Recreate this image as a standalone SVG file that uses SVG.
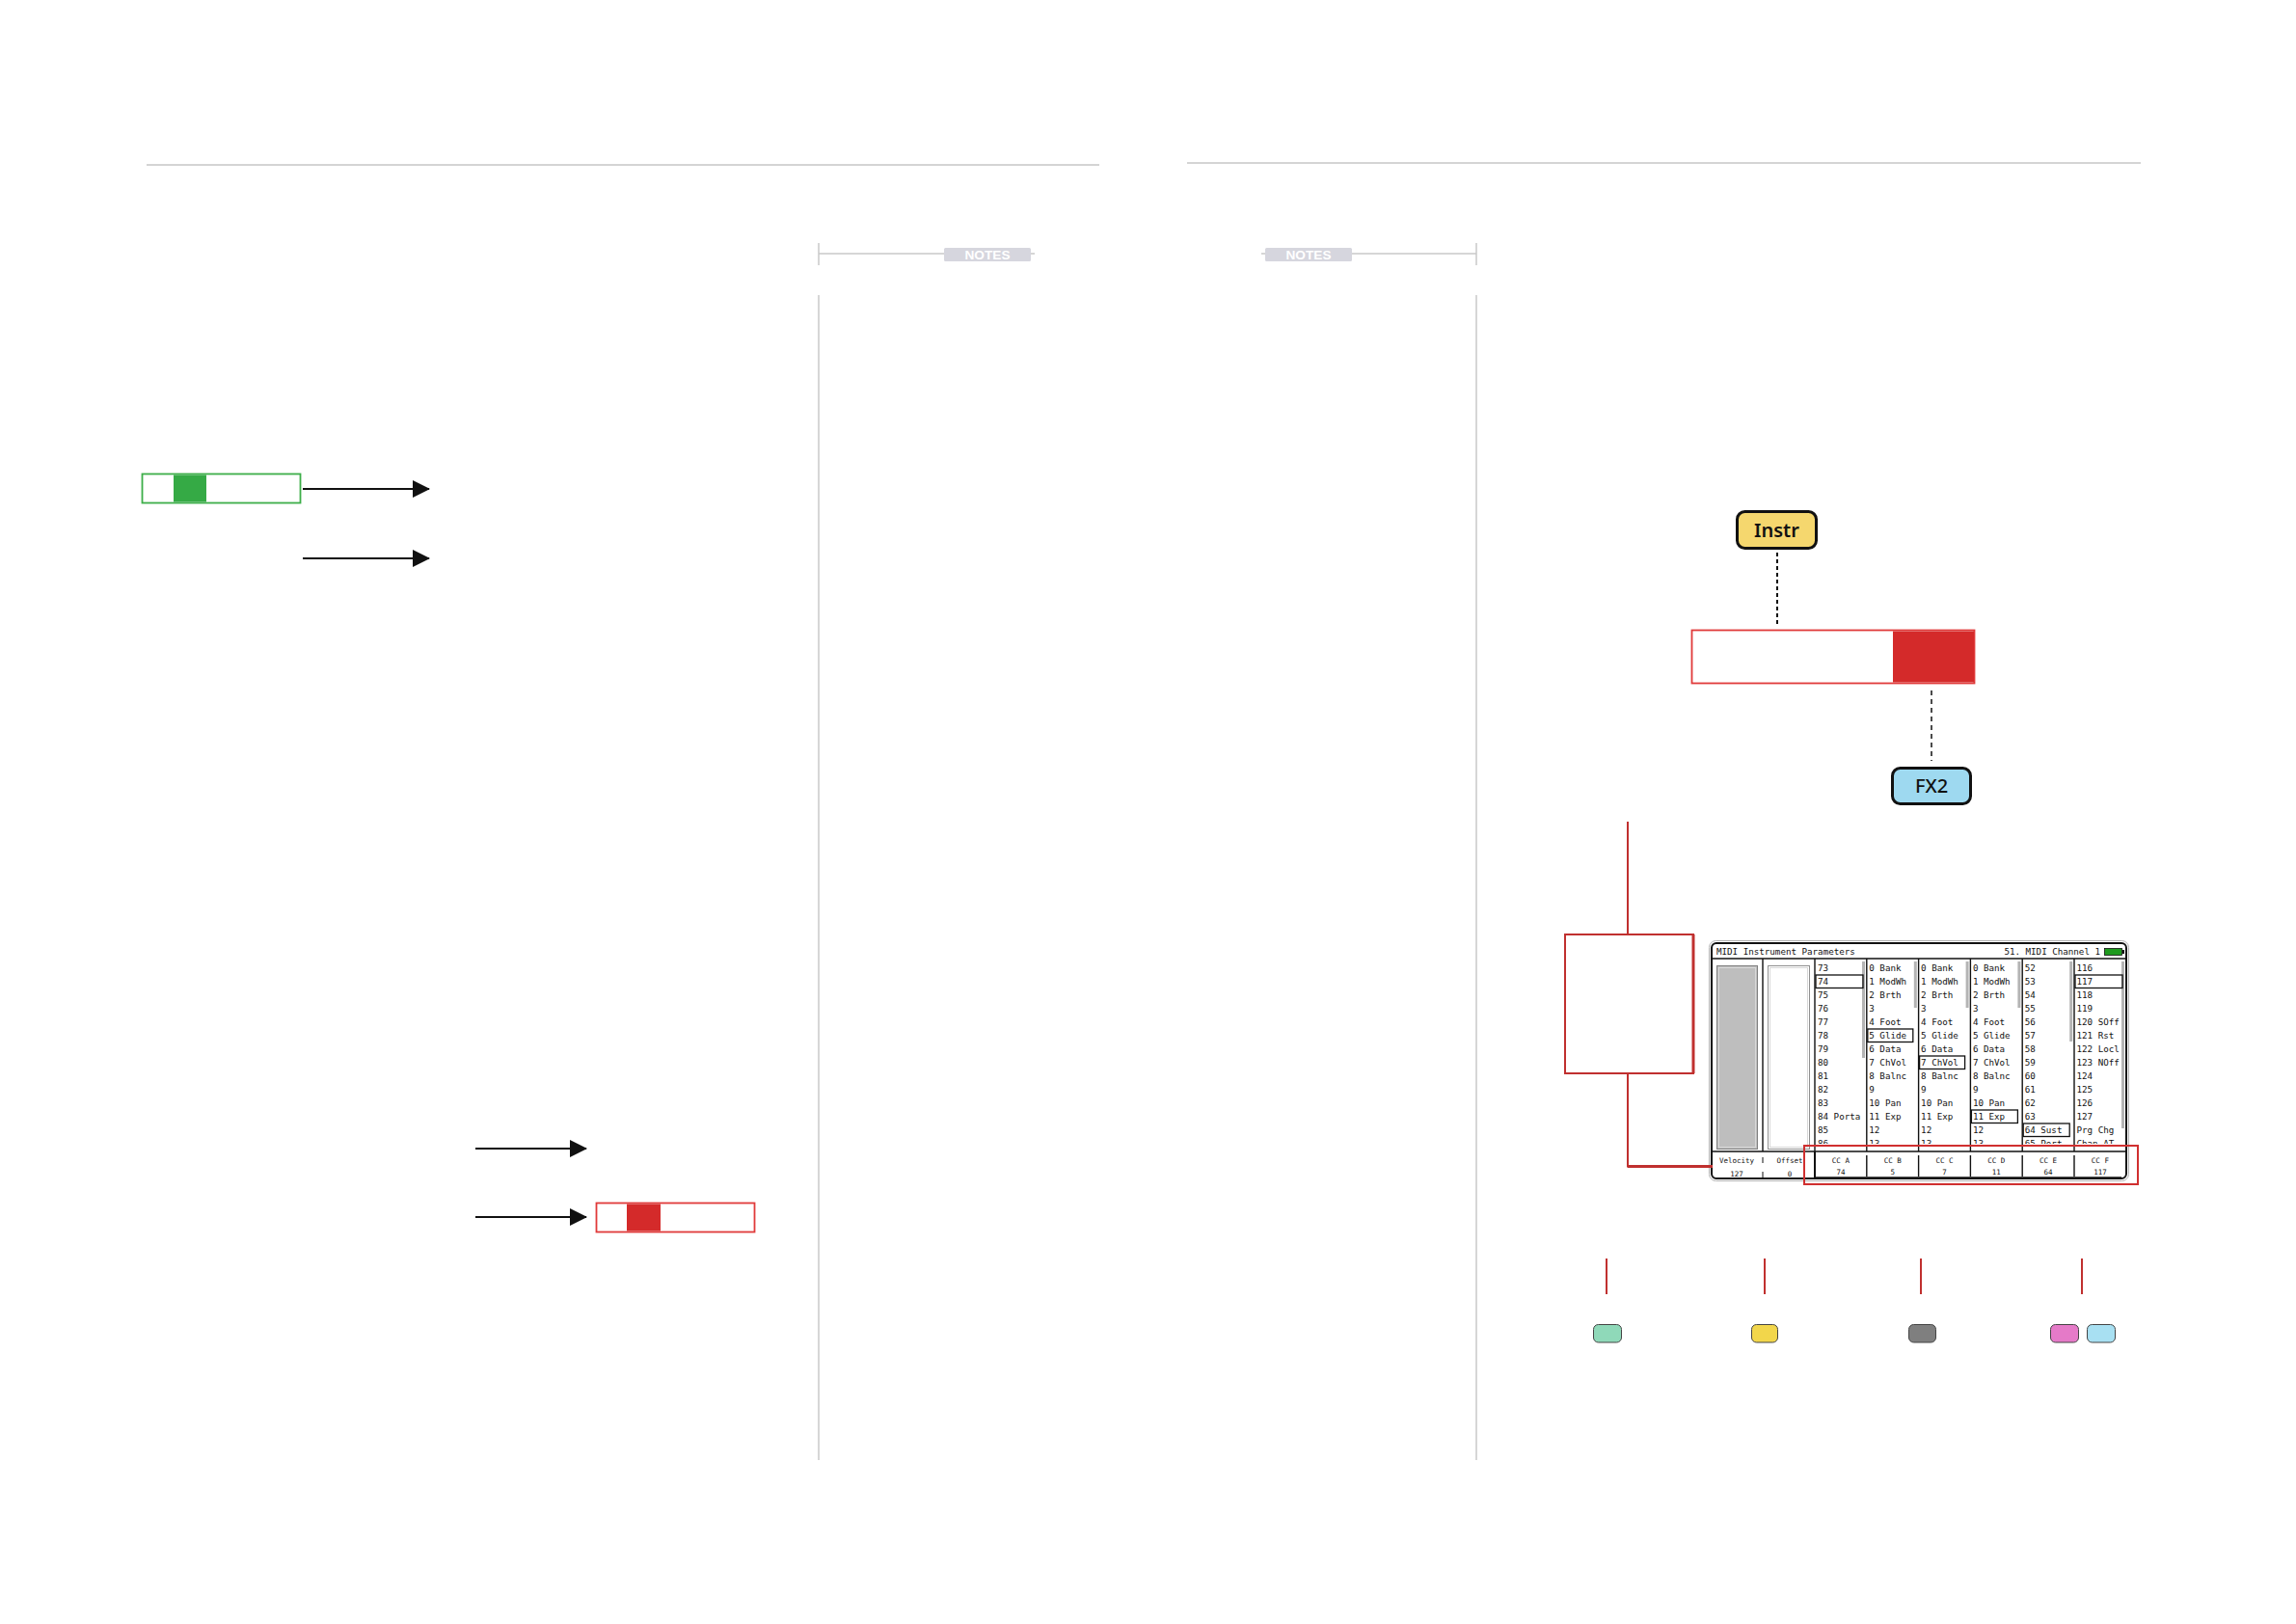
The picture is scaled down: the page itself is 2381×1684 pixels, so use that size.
<svg xmlns="http://www.w3.org/2000/svg" width="2381" height="1684" viewBox="0 0 2381 1684">
<defs>
<style>
.guide{stroke:#D4D4D4;stroke-width:2;fill:none}
.vguide{stroke:#C8C8C8;stroke-width:1.5;fill:none}
.notes{fill:#D6D6DE}
.notestxt{font-family:"Liberation Sans",Arial,sans-serif;font-size:13px;font-weight:bold;fill:#FFFFFF;text-anchor:middle}
.arrow{stroke:#111;stroke-width:2;fill:none;marker-end:url(#ah)}
.redln{stroke:#C0302F;stroke-width:2;fill:none}
.mono{font-family:"DejaVu Sans Mono","Liberation Mono",monospace;font-size:9.2px;fill:#111}
.small{font-family:"DejaVu Sans Mono","Liberation Mono",monospace;font-size:7.5px;fill:#111;text-anchor:middle}
.sep{stroke:#111;stroke-width:1.4}
.scroll{stroke:#B4B4B4;stroke-width:3}
.sel{fill:none;stroke:#111;stroke-width:1.3}
.label{font-family:"Noto Sans","DejaVu Sans",sans-serif;font-size:20px;fill:#111;text-anchor:middle}
.sw{stroke:#444;stroke-width:1}
</style>
<marker id="ah" viewBox="0 0 18 18" refX="17" refY="9" markerWidth="18" markerHeight="18" markerUnits="userSpaceOnUse" orient="auto">
<path d="M0,0 L18,9 L0,18 Z" fill="#111"/>
</marker>
<clipPath id="listclip"><rect x="1878" y="995" width="330" height="191"/></clipPath>
<clipPath id="valclip"><rect x="1776" y="1213" width="100" height="9"/></clipPath>
</defs>

<g id="page-guides">
<line class="guide" x1="152" y1="171" x2="1140" y2="171"/>
<line class="guide" x1="1231" y1="169" x2="2220" y2="169"/>
<line class="vguide" x1="849" y1="252" x2="849" y2="275"/>
<line class="vguide" x1="849" y1="263" x2="979" y2="263"/>
<line class="vguide" x1="1069" y1="263" x2="1073" y2="263"/>
<rect class="notes" x="979" y="257" width="90" height="14" rx="1.5"/>
<text class="notestxt" x="1024" y="268.5" textLength="47" lengthAdjust="spacingAndGlyphs">NOTES</text>
<line class="vguide" x1="1531" y1="252" x2="1531" y2="275"/>
<line class="vguide" x1="1402" y1="263" x2="1531" y2="263"/>
<line class="vguide" x1="1308" y1="263" x2="1312" y2="263"/>
<rect class="notes" x="1312" y="257" width="90" height="14" rx="1.5"/>
<text class="notestxt" x="1357" y="268.5" textLength="47" lengthAdjust="spacingAndGlyphs">NOTES</text>
<line class="vguide" x1="849" y1="306" x2="849" y2="1514"/>
<line class="vguide" x1="1531" y1="306" x2="1531" y2="1514"/>
</g>

<g id="green-bar">
<rect x="147.5" y="491.5" width="164" height="30" fill="#FFFFFF" stroke="#3DAE49" stroke-width="1.8"/>
<rect x="180" y="492.5" width="34" height="28" fill="#35AA45"/>
</g>

<g id="red-bar-left">
<rect x="618.5" y="1247.5" width="164" height="30" fill="#FFFFFF" stroke="#E03A3A" stroke-width="1.8"/>
<rect x="650" y="1248.5" width="35" height="28" fill="#D42A2A"/>
</g>

<g id="instr">
<rect x="1801.5" y="530.5" width="82" height="38" rx="8" fill="#F5D76E" stroke="#111" stroke-width="3"/>
<text class="label" x="1842.5" y="556.5" font-weight="600">Instr</text>
</g>

<g id="red-bar-right">
<rect x="1754.5" y="653.5" width="293" height="55" fill="#FFFFFF" stroke="#E03A3A" stroke-width="1.8"/>
<rect x="1963" y="654.5" width="84" height="53" fill="#D42A2A"/>
</g>

<g id="fx2">
<rect x="1962.5" y="796.5" width="81" height="37" rx="8" fill="#9ED9F0" stroke="#111" stroke-width="3"/>
<text class="label" x="2003" y="822" font-weight="500">FX2</text>
</g>

<g id="callout-box">
<rect x="1623" y="969" width="133" height="144" fill="#FFFFFF" stroke="#C0302F" stroke-width="2"/>
<line x1="1756" y1="969" x2="1756" y2="1113" stroke="#C0302F" stroke-width="3"/>
</g>

<g id="screen">
<rect x="1772.5" y="975.5" width="435" height="249" rx="7" fill="#FFFFFF" stroke="#B0B0B0" stroke-width="1"/>
<rect x="1775" y="978" width="430" height="244" rx="5" fill="#FFFFFF" stroke="#111" stroke-width="2"/>
<text class="mono" x="1780" y="990">MIDI Instrument Parameters</text>
<text class="mono" x="2178" y="990" text-anchor="end">51. MIDI Channel 1</text>
<rect x="2182.5" y="983.5" width="18" height="7" fill="#1F9A1F" stroke="#111" stroke-width="0.8"/>
<rect x="2201" y="985" width="2" height="4" fill="#111"/>
<line class="sep" x1="1776" y1="994" x2="2204" y2="994"/>
<rect x="1780.5" y="1001.5" width="42" height="190" fill="#BEBEBE" stroke="#808080" stroke-width="1"/>
<rect x="1782.5" y="1003.5" width="38" height="186" fill="none" stroke="#D8D8D8" stroke-width="1"/>
<rect x="1833.5" y="1001.5" width="43" height="190" fill="#FFFFFF" stroke="#909090" stroke-width="1"/>
<rect x="1835.5" y="1003.5" width="39" height="186" fill="none" stroke="#D8D8D8" stroke-width="1"/>
<line class="sep" x1="1828" y1="994" x2="1828" y2="1194"/>
<line class="sep" x1="1882" y1="994" x2="1882" y2="1194"/>
<line class="sep" x1="1935.8" y1="994" x2="1935.8" y2="1194"/>
<line class="sep" x1="1989.6" y1="994" x2="1989.6" y2="1194"/>
<line class="sep" x1="2043.4" y1="994" x2="2043.4" y2="1194"/>
<line class="sep" x1="2097.2" y1="994" x2="2097.2" y2="1194"/>
<line class="sep" x1="2151" y1="994" x2="2151" y2="1194"/>
<line class="scroll" x1="1932.5" y1="997" x2="1932.5" y2="1097"/>
<line class="scroll" x1="1986.3" y1="997" x2="1986.3" y2="1045"/>
<line class="scroll" x1="2040.1" y1="997" x2="2040.1" y2="1045"/>
<line class="scroll" x1="2093.9" y1="997" x2="2093.9" y2="1045"/>
<line class="scroll" x1="2147.7" y1="997" x2="2147.7" y2="1080"/>
<line class="scroll" x1="2201.5" y1="997" x2="2201.5" y2="1170"/>
<g clip-path="url(#listclip)">
<text class="mono"><tspan x="1885" y="1007">73</tspan><tspan x="1885" y="1021">74</tspan><tspan x="1885" y="1035">75</tspan><tspan x="1885" y="1049">76</tspan><tspan x="1885" y="1063">77</tspan><tspan x="1885" y="1077">78</tspan><tspan x="1885" y="1091">79</tspan><tspan x="1885" y="1105">80</tspan><tspan x="1885" y="1119">81</tspan><tspan x="1885" y="1133">82</tspan><tspan x="1885" y="1147">83</tspan><tspan x="1885" y="1161">84 Porta</tspan><tspan x="1885" y="1175">85</tspan><tspan x="1885" y="1189">86</tspan></text>
<text class="mono"><tspan x="1938.3" y="1007">0 Bank</tspan><tspan x="1938.3" y="1021">1 ModWh</tspan><tspan x="1938.3" y="1035">2 Brth</tspan><tspan x="1938.3" y="1049">3</tspan><tspan x="1938.3" y="1063">4 Foot</tspan><tspan x="1938.3" y="1077">5 Glide</tspan><tspan x="1938.3" y="1091">6 Data</tspan><tspan x="1938.3" y="1105">7 ChVol</tspan><tspan x="1938.3" y="1119">8 Balnc</tspan><tspan x="1938.3" y="1133">9</tspan><tspan x="1938.3" y="1147">10 Pan</tspan><tspan x="1938.3" y="1161">11 Exp</tspan><tspan x="1938.3" y="1175">12</tspan><tspan x="1938.3" y="1189">13</tspan></text>
<text class="mono"><tspan x="1992.1" y="1007">0 Bank</tspan><tspan x="1992.1" y="1021">1 ModWh</tspan><tspan x="1992.1" y="1035">2 Brth</tspan><tspan x="1992.1" y="1049">3</tspan><tspan x="1992.1" y="1063">4 Foot</tspan><tspan x="1992.1" y="1077">5 Glide</tspan><tspan x="1992.1" y="1091">6 Data</tspan><tspan x="1992.1" y="1105">7 ChVol</tspan><tspan x="1992.1" y="1119">8 Balnc</tspan><tspan x="1992.1" y="1133">9</tspan><tspan x="1992.1" y="1147">10 Pan</tspan><tspan x="1992.1" y="1161">11 Exp</tspan><tspan x="1992.1" y="1175">12</tspan><tspan x="1992.1" y="1189">13</tspan></text>
<text class="mono"><tspan x="2045.9" y="1007">0 Bank</tspan><tspan x="2045.9" y="1021">1 ModWh</tspan><tspan x="2045.9" y="1035">2 Brth</tspan><tspan x="2045.9" y="1049">3</tspan><tspan x="2045.9" y="1063">4 Foot</tspan><tspan x="2045.9" y="1077">5 Glide</tspan><tspan x="2045.9" y="1091">6 Data</tspan><tspan x="2045.9" y="1105">7 ChVol</tspan><tspan x="2045.9" y="1119">8 Balnc</tspan><tspan x="2045.9" y="1133">9</tspan><tspan x="2045.9" y="1147">10 Pan</tspan><tspan x="2045.9" y="1161">11 Exp</tspan><tspan x="2045.9" y="1175">12</tspan><tspan x="2045.9" y="1189">13</tspan></text>
<text class="mono"><tspan x="2099.7" y="1007">52</tspan><tspan x="2099.7" y="1021">53</tspan><tspan x="2099.7" y="1035">54</tspan><tspan x="2099.7" y="1049">55</tspan><tspan x="2099.7" y="1063">56</tspan><tspan x="2099.7" y="1077">57</tspan><tspan x="2099.7" y="1091">58</tspan><tspan x="2099.7" y="1105">59</tspan><tspan x="2099.7" y="1119">60</tspan><tspan x="2099.7" y="1133">61</tspan><tspan x="2099.7" y="1147">62</tspan><tspan x="2099.7" y="1161">63</tspan><tspan x="2099.7" y="1175">64 Sust</tspan><tspan x="2099.7" y="1189">65 Port</tspan></text>
<text class="mono"><tspan x="2153.5" y="1007">116</tspan><tspan x="2153.5" y="1021">117</tspan><tspan x="2153.5" y="1035">118</tspan><tspan x="2153.5" y="1049">119</tspan><tspan x="2153.5" y="1063">120 SOff</tspan><tspan x="2153.5" y="1077">121 Rst</tspan><tspan x="2153.5" y="1091">122 Locl</tspan><tspan x="2153.5" y="1105">123 NOff</tspan><tspan x="2153.5" y="1119">124</tspan><tspan x="2153.5" y="1133">125</tspan><tspan x="2153.5" y="1147">126</tspan><tspan x="2153.5" y="1161">127</tspan><tspan x="2153.5" y="1175">Prg Chg</tspan><tspan x="2153.5" y="1189">Chan AT</tspan></text>
</g>
<rect class="sel" x="1883" y="1011" width="49" height="13.5"/>
<rect class="sel" x="1936.8" y="1067" width="47" height="13.5"/>
<rect class="sel" x="1990.6" y="1095" width="47" height="13.5"/>
<rect class="sel" x="2044.4" y="1151" width="48" height="13.5"/>
<rect class="sel" x="2098.2" y="1165" width="48" height="13.5"/>
<rect class="sel" x="2152" y="1011" width="49" height="13.5"/>
<line class="sep" x1="1776" y1="1194" x2="2204" y2="1194" stroke-width="1.6"/>
<text class="small" x="1801" y="1206">Velocity</text>
<text class="small" x="1856" y="1206">Offset</text>
<line x1="1828" y1="1200" x2="1828" y2="1206" stroke="#111" stroke-width="1"/>
<line x1="1828" y1="1215" x2="1828" y2="1222" stroke="#111" stroke-width="1"/>
<g clip-path="url(#valclip)">
<text class="small" x="1801" y="1220">127</text>
<text class="small" x="1856" y="1220">0</text>
</g>
<line x1="1882" y1="1194" x2="1882" y2="1222" stroke="#111" stroke-width="2"/>
<line class="sep" x1="1935.8" y1="1198" x2="1935.8" y2="1220"/>
<line class="sep" x1="1989.6" y1="1198" x2="1989.6" y2="1220"/>
<line class="sep" x1="2043.4" y1="1198" x2="2043.4" y2="1220"/>
<line class="sep" x1="2097.2" y1="1198" x2="2097.2" y2="1220"/>
<line class="sep" x1="2151" y1="1198" x2="2151" y2="1220"/>
<text class="small" x="1908.9" y="1206">CC A</text><text class="small" x="1908.9" y="1217.5">74</text>
<text class="small" x="1962.7" y="1206">CC B</text><text class="small" x="1962.7" y="1217.5">5</text>
<text class="small" x="2016.5" y="1206">CC C</text><text class="small" x="2016.5" y="1217.5">7</text>
<text class="small" x="2070.3" y="1206">CC D</text><text class="small" x="2070.3" y="1217.5">11</text>
<text class="small" x="2124.1" y="1206">CC E</text><text class="small" x="2124.1" y="1217.5">64</text>
<text class="small" x="2177.9" y="1206">CC F</text><text class="small" x="2177.9" y="1217.5">117</text>
<line x1="1882" y1="1221.5" x2="2200" y2="1221.5" stroke="#111" stroke-width="2.5"/>
</g>

<g id="cc-highlight">
<rect x="1871" y="1188" width="346" height="40" fill="none" stroke="#D03030" stroke-width="2"/>
</g>

<g id="swatches">
<rect class="sw" x="1652.5" y="1373.5" width="29" height="18.5" rx="5" fill="#8FD9B9"/>
<rect class="sw" x="1816.5" y="1373.5" width="27" height="18.5" rx="5" fill="#F2D64B"/>
<rect class="sw" x="1979.5" y="1373.5" width="28" height="18.5" rx="5" fill="#7F7F7F"/>
<rect class="sw" x="2126.5" y="1373.5" width="29" height="18.5" rx="5" fill="#E57AC8"/>
<rect class="sw" x="2164.5" y="1373.5" width="29" height="18.5" rx="5" fill="#A8E0F2"/>
</g>

<g id="connectors">
<line class="arrow" x1="314" y1="507" x2="445" y2="507"/>
<line class="arrow" x1="314" y1="579" x2="445" y2="579"/>
<line class="arrow" x1="493" y1="1191" x2="608" y2="1191"/>
<line class="arrow" x1="493" y1="1262" x2="608" y2="1262"/>
<line x1="1843" y1="573" x2="1843" y2="648" stroke="#111" stroke-width="2" stroke-dasharray="4 3"/>
<line x1="2003" y1="716" x2="2003" y2="789" stroke="#111" stroke-width="1.5" stroke-dasharray="5 4"/>
<line class="redln" x1="1688" y1="852" x2="1688" y2="969"/>
<polyline class="redln" points="1688,1113 1688,1209.5 1776,1209.5"/>
<line x1="1688" y1="1209.5" x2="1776" y2="1209.5" stroke="#C0302F" stroke-width="3"/>
<line class="redln" x1="1666" y1="1305" x2="1666" y2="1342"/>
<line class="redln" x1="1830" y1="1305" x2="1830" y2="1342"/>
<line class="redln" x1="1992" y1="1305" x2="1992" y2="1342"/>
<line class="redln" x1="2159" y1="1305" x2="2159" y2="1342"/>
</g>
</svg>
